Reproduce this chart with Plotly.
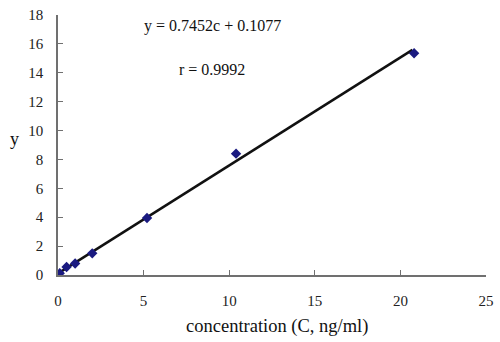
import plotly.graph_objects as go

concentration = [0.1, 0.5, 1.0, 2.0, 5.2, 10.4, 20.8]
response = [0.12, 0.55, 0.8, 1.5, 3.95, 8.4, 15.35]
slope = 0.7452
intercept = 0.1077
fit_x = [0.1, 20.7]
fit_y = [slope * c + intercept + (0.05 if c > 20 else 0) for c in fit_x]
x_ticks = [0, 5, 10, 15, 20, 25]
y_ticks = [0, 2, 4, 6, 8, 10, 12, 14, 16, 18]

FONT = "Liberation Serif, Times New Roman, serif"
L, R, T, B = 58, 14, 15, 67
PW, PH = 500 - L - R, 342 - T - B


def px(x):
    return (x - L) / PW


def py(y):
    return (342 - B - y) / PH


fig = go.Figure()
fig.add_trace(go.Scatter(x=fit_x, y=fit_y, mode="lines",
                         line=dict(color="#111111", width=2.5), showlegend=False))
fig.add_trace(go.Scatter(x=concentration, y=response, mode="markers",
                         marker=dict(symbol="diamond", size=8, color="#1a1a80"),
                         showlegend=False))


def label(text, x, y, size):
    fig.add_annotation(text=text, x=px(x), y=py(y), xref="paper", yref="paper",
                       xanchor="center", yanchor="middle", showarrow=False,
                       font=dict(family=FONT, size=size, color="#111"))


label("y = 0.7452c + 0.1077", 212, 26, 16)
label("r = 0.9992", 212, 69, 16)
label("y", 14, 139, 18)
label("concentration (C, ng/ml)", 277, 326, 18.5)

axis_common = dict(showgrid=False, zeroline=False, showline=True, linecolor="#707070",
                   linewidth=1.5, ticks="inside", ticklen=5, tickcolor="#707070",
                   automargin=False,
                   tickfont=dict(family=FONT, size=15, color="#222"))
fig.update_xaxes(range=[0, 25], tickvals=x_ticks, ticklabelstandoff=11, **axis_common)
fig.update_yaxes(range=[0, 18], tickvals=y_ticks, ticklabelstandoff=10, **axis_common)

fig.update_layout(width=500, height=342, margin=dict(l=L, r=R, t=T, b=B, autoexpand=False),
                  paper_bgcolor="white", plot_bgcolor="white",
                  font=dict(family=FONT))
fig.write_html("out.html", config={"displayModeBar": False},
               post_script="document.body.style.margin='0';")
